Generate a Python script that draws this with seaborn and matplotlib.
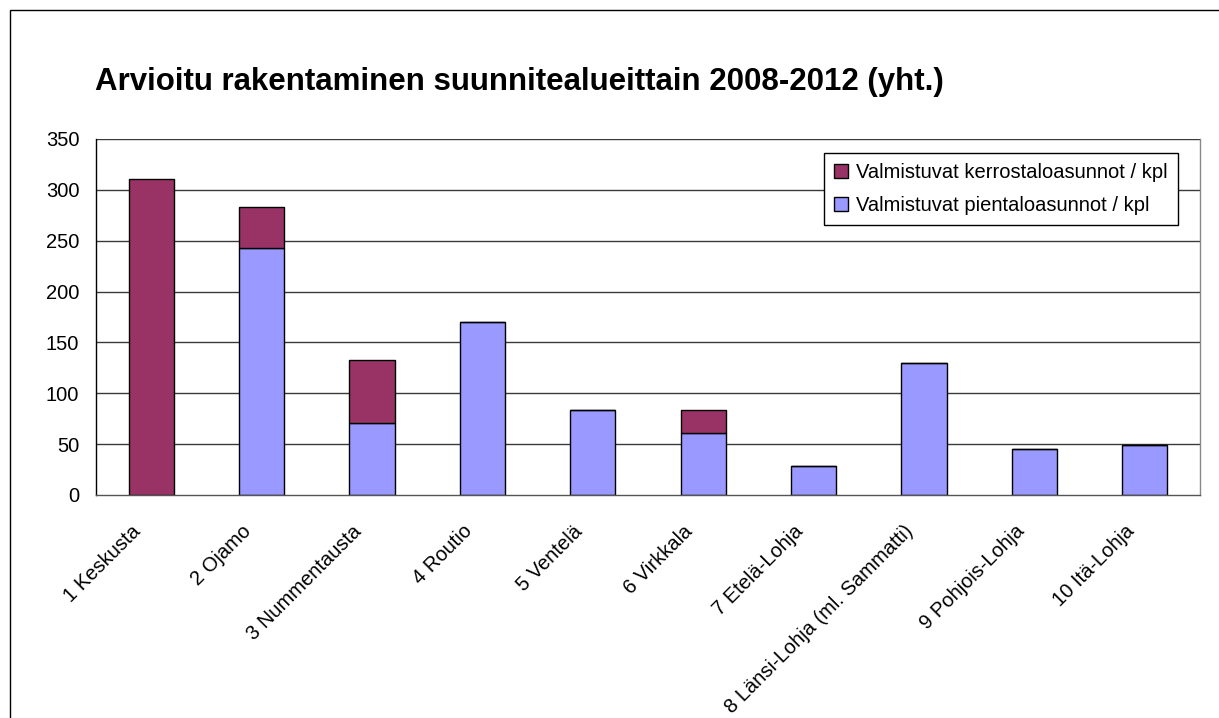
"""
Arvioitu rakentaminen suunnitealueittain 2008-2012 -- stacked bars per area.
"""

import numpy as np
import matplotlib.pyplot as plt
import matplotlib.transforms as mtransforms
import seaborn as sns
from matplotlib.patches import Patch, Rectangle

# Data
AREAS = [
    "1 Keskusta",
    "2 Ojamo",
    "3 Nummentausta",
    "4 Routio",
    "5 Ventelä",
    "6 Virkkala",
    "7 Etelä-Lohja",
    "8 Länsi-Lohja (ml. Sammatti)",
    "9 Pohjois-Lohja",
    "10 Itä-Lohja",
]
PIENTALO = [0, 243, 71, 170, 84, 61, 29, 130, 45, 49]
KERROSTALO = [311, 40, 62, 0, 0, 23, 0, 0, 0, 0]
Y_TICKS = [0, 50, 100, 150, 200, 250, 300, 350]

TITLE = "Arvioitu rakentaminen suunnitealueittain 2008-2012 (yht.)"
LABEL_KERROS = "Valmistuvat kerrostaloasunnot / kpl"
LABEL_PIENTALO = "Valmistuvat pientaloasunnot / kpl"

# Styles
KERROS_COLOR = "#993366"
PIENTALO_COLOR = "#9999FF"
GRID_COLOR = "#3a3a3a"
BAR_WIDTH = 0.41
TICK_FONTSIZE = 14.5

sns.set_style("white")
plt.rcParams["font.family"] = ["Liberation Sans", "DejaVu Sans"]
plt.rcParams["text.color"] = "black"
plt.rcParams["xtick.color"] = "black"
plt.rcParams["ytick.color"] = "black"

fig = plt.figure(figsize=(12.19, 7.18), dpi=100)
ax = fig.add_axes([96 / 1219, 1 - 495 / 718, 1104 / 1219, 356 / 718])

# Outer chart frame (cut off at right and bottom like the original)
fig.patches.append(
    Rectangle(
        (10 / 1219, -0.1), 1.2, 1 - 10 / 718 + 0.1,
        transform=fig.transFigure, fill=False, edgecolor="black", linewidth=1,
    )
)

ax.set_axisbelow(True)
for y in Y_TICKS[1:]:
    ax.axhline(y, color=GRID_COLOR, linewidth=1, zorder=0)

sns.barplot(
    x=AREAS, y=PIENTALO, color=PIENTALO_COLOR, saturation=1, width=BAR_WIDTH,
    edgecolor="black", linewidth=1, errorbar=None, ax=ax,
)
sns.barplot(
    x=AREAS, y=KERROSTALO, bottom=PIENTALO, color=KERROS_COLOR, saturation=1,
    width=BAR_WIDTH, edgecolor="black", linewidth=1, errorbar=None, ax=ax,
)

ax.set_ylim(0, 350)
ax.set_xlim(-0.5, len(AREAS) - 0.5)
ax.set_yticks(Y_TICKS)
ax.set_yticklabels([str(v) for v in Y_TICKS], fontsize=TICK_FONTSIZE)

# Category labels at centres, tick marks at boundaries
ax.set_xticks(range(len(AREAS)))
ax.set_xticklabels(AREAS, rotation=45, ha="right", rotation_mode="anchor", fontsize=TICK_FONTSIZE)
ax.set_xticks(np.arange(-0.5, len(AREAS), 1), minor=True)
ax.tick_params(axis="x", which="major", length=0, pad=12)
ax.tick_params(axis="x", which="minor", length=5, width=1, color="#555555", direction="out")
ax.tick_params(axis="y", length=5, width=1, color="#555555", direction="out", pad=7)
shift = mtransforms.ScaledTranslation(-20 / 100, -10 / 100, fig.dpi_scale_trans)
for lbl in ax.get_xticklabels():
    lbl.set_transform(lbl.get_transform() + shift)
ax.set_xlabel("")
ax.set_ylabel("")

ax.spines["top"].set_visible(False)
ax.spines["left"].set_color("black")
ax.spines["bottom"].set_color("#555555")
ax.spines["right"].set_color("#888888")
for s in ["left", "bottom", "right"]:
    ax.spines[s].set_linewidth(1)

handles = [
    Patch(facecolor=KERROS_COLOR, edgecolor="black", label=LABEL_KERROS),
    Patch(facecolor=PIENTALO_COLOR, edgecolor="black", label=LABEL_PIENTALO),
]
leg = ax.legend(
    handles=handles, loc="upper right", bbox_to_anchor=(0.980, 0.961),
    borderaxespad=0, fontsize=14.5, fancybox=False, framealpha=1,
    handlelength=0.7, handleheight=0.7, handletextpad=0.4, labelspacing=0.7,
    borderpad=0.5,
)
leg.get_frame().set_edgecolor("black")
leg.get_frame().set_linewidth(1)

fig.text(95 / 1219, 1 - 82 / 718, TITLE, fontsize=22.5, fontweight="bold", va="center", ha="left")

fig.savefig("out.png", dpi=100)
